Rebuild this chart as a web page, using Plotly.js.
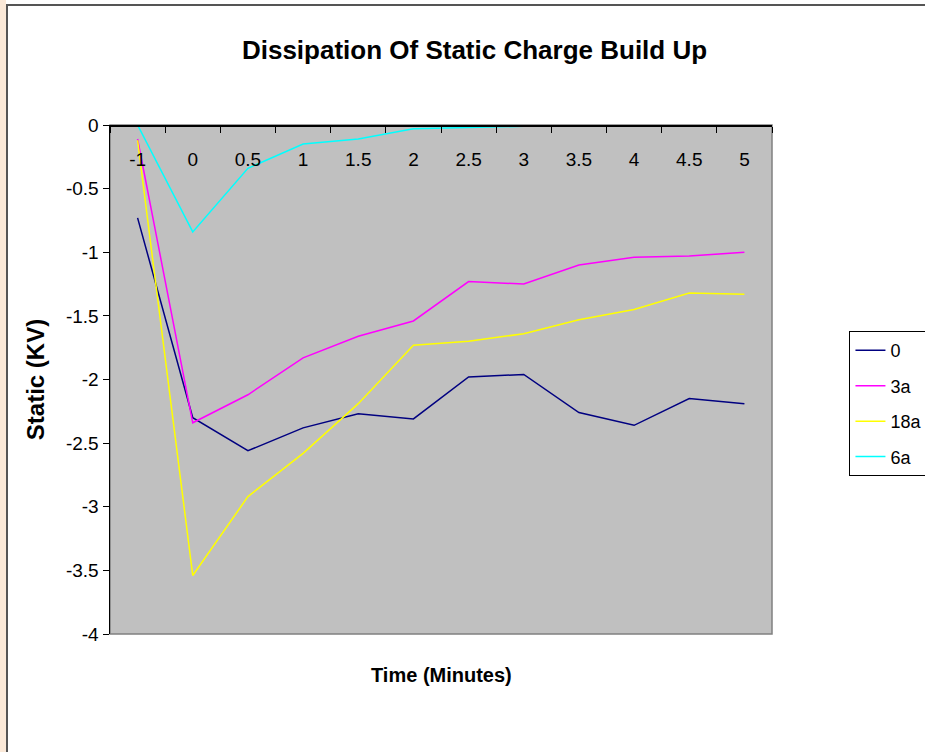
<!DOCTYPE html>
<html>
<head>
<meta charset="utf-8">
<script src="https://cdn.plot.ly/plotly-3.0.1.min.js"></script>
<style>
  html, body { margin: 0; padding: 0; background: #fff; }
  #strip { position: absolute; left: 0; top: 0; width: 6px; height: 752px; background: #fbe9d8; }
  #frame { position: absolute; left: 6px; top: 4px; width: 1000px; height: 1000px; border-left: 2px solid #555; border-top: 2px solid #555; box-sizing: border-box; pointer-events: none; }
  #chart { position: absolute; left: 0; top: 0; width: 925px; height: 752px; }
</style>
</head>
<body>
<div id="strip"></div>
<div id="chart"></div>
<div id="frame"></div>
<script>
const categories = ["-1", "0", "0.5", "1", "1.5", "2", "2.5", "3", "3.5", "4", "4.5", "5"];
const series0   = [-0.73, -2.30, -2.56, -2.38, -2.27, -2.31, -1.98, -1.96, -2.26, -2.36, -2.15, -2.19];
const series3a  = [-0.11, -2.34, -2.12, -1.83, -1.66, -1.54, -1.23, -1.25, -1.10, -1.04, -1.03, -1.00];
const series18a = [-0.12, -3.54, -2.92, -2.58, -2.19, -1.73, -1.70, -1.64, -1.53, -1.45, -1.32, -1.33];
const series6a  = [0.00, -0.84, -0.34, -0.15, -0.11, -0.03, -0.02, -0.01, -0.01, -0.01, 0.00, -0.01];
const seriesNames = ["0", "3a", "18a", "6a"];
const yTicks = [0, -0.5, -1, -1.5, -2, -2.5, -3, -3.5, -4];

const colors = ["#000080", "#FF00FF", "#FFFF00", "#00FFFF"];
const allSeries = [series0, series3a, series18a, series6a];

const traces = allSeries.map((vals, i) => ({
  type: "scatter",
  mode: "lines",
  name: seriesNames[i],
  legendgroup: "g" + i,
  x: categories,
  y: vals,
  line: { color: colors[i], width: 1.5 },
  cliponaxis: false
}));

const font = "Liberation Sans, Arial, sans-serif";

const layout = {
  width: 925,
  height: 752,
  margin: { l: 110, r: 153, t: 125, b: 118, autoexpand: false },
  paper_bgcolor: "rgba(0,0,0,0)",
  plot_bgcolor: "#C0C0C0",
  font: { family: font, color: "#000", size: 16 },
  title: {
    text: "<b>Dissipation Of Static Charge Build Up</b>",
    font: { family: font, size: 26, color: "#000" },
    x: 0.513, xref: "container", xanchor: "center",
    y: 0.933, yref: "container", yanchor: "middle"
  },
  xaxis: {
    type: "category",
    side: "bottom",
    anchor: "free",
    position: 1,
    showline: true, linecolor: "#000", linewidth: 1.5,
    ticks: "outside", ticklen: 6, tickcolor: "#000", tickwidth: 1,
    tickson: "boundaries",
    ticklabelstandoff: 17,
    tickfont: { family: font, size: 19, color: "#000" },
    showgrid: false, zeroline: false,
    range: [-0.5, 11.5],
    fixedrange: true
  },
  yaxis: {
    range: [-4, 0],
    tickvals: yTicks,
    ticktext: yTicks.map(v => String(v)),
    showline: true, linecolor: "#000", linewidth: 1.5,
    ticks: "outside", ticklen: 6, tickcolor: "#000", tickwidth: 1,
    tickfont: { family: font, size: 19, color: "#000" },
    showgrid: false, zeroline: false,
    title: { text: "<b>Static (KV)</b>", font: { family: font, size: 24, color: "#000" }, standoff: 14 },
    fixedrange: true
  },
  annotations: [{
    text: "<b>Time (Minutes)</b>",
    xref: "paper", yref: "paper",
    x: 0.5, y: -0.08, xanchor: "center", yanchor: "middle",
    showarrow: false,
    font: { family: font, size: 20, color: "#000" }
  }],
  shapes: [{
    type: "rect", xref: "paper", yref: "paper",
    x0: 0, x1: 1, y0: 0, y1: 1,
    line: { color: "#808080", width: 1.5 },
    layer: "below"
  }],
  legend: {
    x: 1.117, xanchor: "left",
    y: 0.595, yanchor: "top",
    bgcolor: "#fff",
    bordercolor: "#000", borderwidth: 1,
    font: { family: font, size: 18, color: "#000" },
    traceorder: "grouped",
    tracegroupgap: 9
  },
  showlegend: true
};

Plotly.newPlot("chart", traces, layout, { displayModeBar: false, staticPlot: true });
</script>
</body>
</html>
